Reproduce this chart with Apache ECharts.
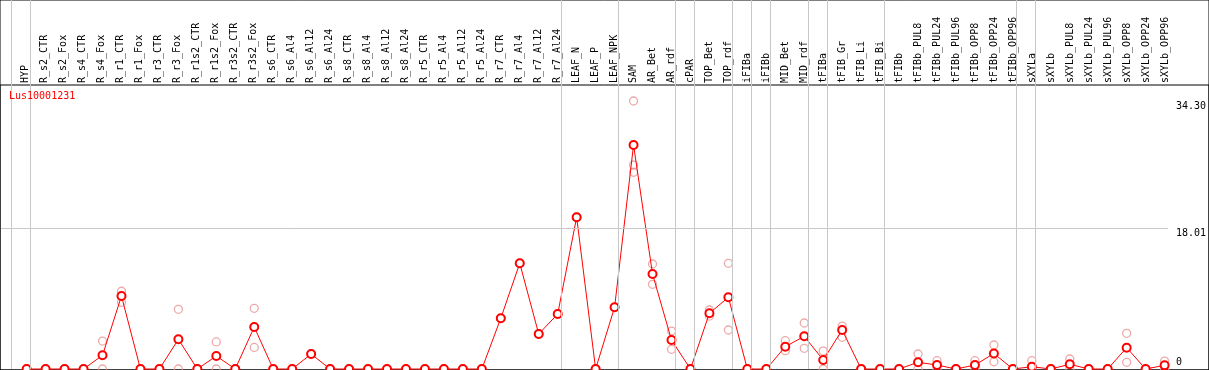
<!DOCTYPE html>
<html>
<head>
<meta charset="utf-8">
<script src="https://cdn.jsdelivr.net/npm/echarts@6/dist/echarts.min.js"></script>
<style>
  html, body { margin: 0; padding: 0; background: #fff; }
  #chart { width: 1209px; height: 370px; }
</style>
</head>
<body>
<div id="chart"></div>
<script>
// samples (x axis, top labels)
const categories = [
  'HYP', 'R_s2_CTR', 'R_s2_Fox', 'R_s4_CTR', 'R_s4_Fox', 'R_r1_CTR', 'R_r1_Fox', 'R_r3_CTR', 'R_r3_Fox',
  'R_r1s2_CTR', 'R_r1s2_Fox', 'R_r3s2_CTR', 'R_r3s2_Fox', 'R_s6_CTR', 'R_s6_Al4', 'R_s6_Al12', 'R_s6_Al24',
  'R_s8_CTR', 'R_s8_Al4', 'R_s8_Al12', 'R_s8_Al24', 'R_r5_CTR', 'R_r5_Al4', 'R_r5_Al12', 'R_r5_Al24',
  'R_r7_CTR', 'R_r7_Al4', 'R_r7_Al12', 'R_r7_Al24', 'LEAF_N', 'LEAF_P', 'LEAF_NPK', 'SAM', 'AR_Bet', 'AR_rdf',
  'cPAR', 'TOP_Bet', 'TOP_rdf', 'iFIBa', 'iFIBb', 'MID_Bet', 'MID_rdf', 'tFIBa', 'tFIB_Gr', 'tFIB_Li', 'tFIB_Bi',
  'tFIBb', 'tFIBb_PUL8', 'tFIBb_PUL24', 'tFIBb_PUL96', 'tFIBb_OPP8', 'tFIBb_OPP24', 'tFIBb_OPP96',
  'sXYLa', 'sXYLb', 'sXYLb_PUL8', 'sXYLb_PUL24', 'sXYLb_PUL96', 'sXYLb_OPP8', 'sXYLb_OPP24', 'sXYLb_OPP96'
]

// how many samples in each tissue group (separators are drawn between groups)
const groupSizes = [1, 28, 3, 3, 1, 2, 1, 1, 2, 1, 3, 7, 1, 7]

// mean expression per sample
const means = [
  0, 0, 0, 0, 1.75, 9.34, 0, 0, 3.8,
  0, 1.66, 0, 5.38, 0, 0, 1.92, 0,
  0, 0, 0, 0, 0, 0, 0, 0,
  6.49, 13.53, 4.48, 7.04, 19.42, 0, 7.9, 28.67, 12.16, 3.71,
  0, 7.13, 9.18, 0, 0, 2.85, 4.19, 1.15, 4.99, 0, 0,
  0, 0.86, 0.51, 0, 0.51, 1.98, 0,
  0.29, 0, 0.6, 0, 0, 2.73, 0, 0.47
]

// replicates
const rep1 = [
  0, 0, 0, 0, 3.58, 9.95, 0, 0, 7.64,
  0, 3.46, 0, 7.77, 0, 0, 1.92, 0,
  0, 0, 0, 0, 0, 0, 0, 0,
  6.49, 13.53, 4.48, 7.04, 19.42, 0, 7.9, 34.30, 13.44, 4.86,
  0, 7.55, 13.53, 0, 0, 3.62, 5.89, 2.3, 5.5, 0, 0,
  0, 1.92, 1.06, 0, 1.06, 3.07, 0,
  1.06, 0, 1.28, 0, 0, 4.57, 0, 1.02
]
const rep2 = [
  0, 0, 0, 0, 0, 8.54, 0, 0, 0,
  0, 0, 0, 2.76, 0, 0, 1.92, 0,
  0, 0, 0, 0, 0, 0, 0, 0,
  6.49, 13.53, 4.48, 7.04, 19.42, 0, 7.9, 26.11, 10.84, 2.52,
  0, 6.78, 4.99, 0, 0, 2.34, 2.65, 0, 4.06, 0, 0,
  0, 0, 0, 0, 0, 0.93, 0,
  0, 0, 0, 0, 0, 0.86, 0, 0
]
const rep3 = [
  null, null, null, null, null, null, null, null, null,
  null, null, null, null, null, null, null, null,
  null, null, null, null, null, null, null, null,
  null, null, null, null, null, null, null, 25.18, null, null,
  null, null, null, null, null, null, null, null, null, null, null,
  null, null, null, null, null, null, null,
  null, null, null, null, null, null, null, null
]

const yTicks = [0, 18.01, 34.30]
const gridValue = 18.01
const geneName = 'Lus10001231'

const mono = 'DejaVu Sans Mono'
const chart = echarts.init(document.getElementById('chart'))

// separator x positions, slightly right of the last sample of each group
const sepLines = [{ xAxis: -1 + 0.2 }]
let acc = -1
groupSizes.forEach(n => {
  acc += n
  sepLines.push({ xAxis: acc + 0.2 })
})

const meanData = means.map((v, i) => [i, v])
const repData = []
;[rep1, rep2, rep3].forEach(rep => {
  rep.forEach((v, i) => {
    if (v !== null) repData.push([i, v])
  })
})

const option = {
  animation: false,
  title: {
    text: geneName,
    left: 9,
    top: 91,
    padding: 0,
    textStyle: { color: '#ff0000', fontFamily: mono, fontSize: 10, fontWeight: 'normal' }
  },
  grid: [
    { left: 1, right: 39, top: 0, bottom: 1 },
    { left: 15.7, right: 34.3, top: 85, height: 283 },
    { left: 0, right: 0, top: 0, bottom: 0, show: true, borderColor: '#000', borderWidth: 1, backgroundColor: 'transparent' },
    { left: 0, right: 0, top: 85, bottom: 0, show: true, borderColor: '#000', borderWidth: 1, backgroundColor: 'transparent' }
  ],
  xAxis: [
    {
      type: 'value',
      gridIndex: 0,
      min: -1.3526,
      max: 60.174,
      show: false
    },
    {
      type: 'category',
      gridIndex: 1,
      position: 'top',
      data: categories,
      boundaryGap: true,
      axisLine: { show: false },
      axisTick: { show: false },
      splitLine: { show: false },
      axisLabel: {
        interval: 0,
        rotate: 90,
        margin: 2,
        color: '#000',
        fontFamily: mono,
        fontSize: 10
      }
    }
  ],
  yAxis: [
    {
      type: 'value',
      gridIndex: 0,
      position: 'right',
      min: 0,
      max: 47.23,
      axisLine: { show: false },
      axisTick: { show: false },
      splitLine: { show: false },
      axisLabel: {
        customValues: yTicks,
        margin: 8,
        align: 'left',
        color: '#000',
        fontFamily: mono,
        fontSize: 10,
        formatter: v => v === 0 ? '{b|0}' : '{t|' + v.toFixed(2) + '}',
        rich: {
          t: { padding: [10, 0, 0, 0], fontFamily: mono, fontSize: 10, color: '#000' },
          b: { padding: [0, 0, 14, 0], fontFamily: mono, fontSize: 10, color: '#000' }
        }
      }
    },
    { type: 'value', gridIndex: 1, show: false }
  ],
  series: [
    {
      name: 'replicates',
      type: 'scatter',
      xAxisIndex: 0,
      yAxisIndex: 0,
      data: repData,
      symbol: 'circle',
      symbolSize: 8,
      clip: false,
      itemStyle: { color: 'transparent', borderColor: '#e89494', borderWidth: 1.3 },
      z: 2,
      markLine: {
        silent: true,
        symbol: 'none',
        label: { show: false },
        lineStyle: { color: '#c8c8c8', width: 1, type: 'solid' },
        data: sepLines.concat([{ yAxis: gridValue }])
      }
    },
    {
      name: 'mean',
      type: 'line',
      xAxisIndex: 0,
      yAxisIndex: 0,
      data: meanData,
      symbol: 'emptyCircle',
      symbolSize: 8,
      clip: false,
      lineStyle: { color: '#ff0000', width: 1 },
      itemStyle: { color: '#ff0000', borderColor: '#ee0000', borderWidth: 1.3 },
      z: 3
    }
  ]
}

chart.setOption(option)
</script>
</body>
</html>
